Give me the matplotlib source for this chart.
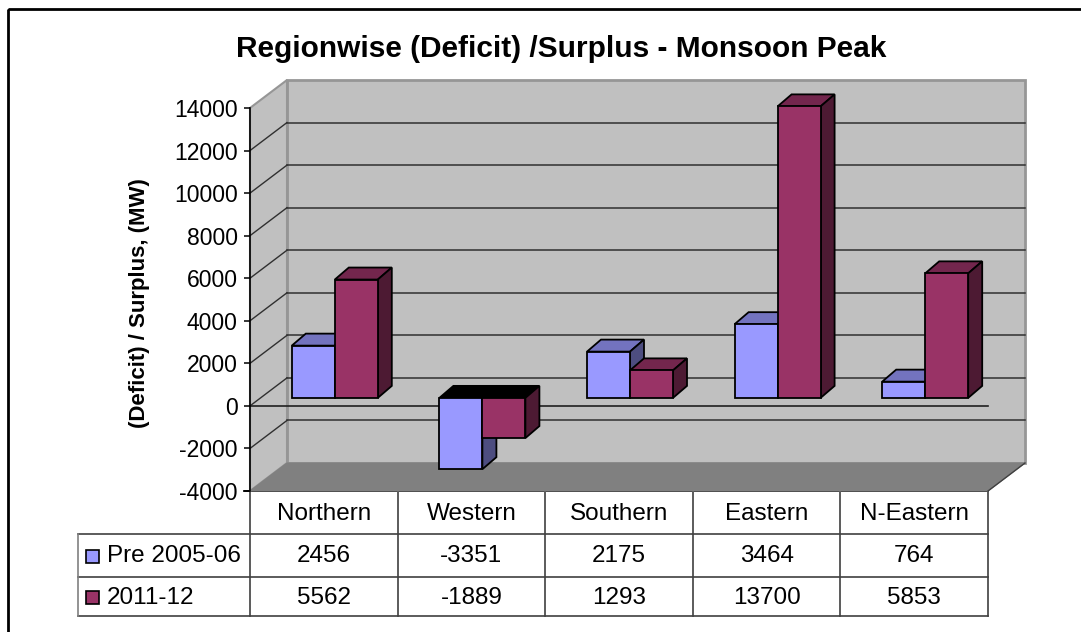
import numpy as np
import matplotlib
matplotlib.use("Agg")
import matplotlib.pyplot as plt
from matplotlib.patches import Polygon, Rectangle
from matplotlib.lines import Line2D

# ---------------- data ----------------
categories = ["Northern", "Western", "Southern", "Eastern", "N-Eastern"]
series_names = ["Pre 2005-06", "2011-12"]
pre_2005_06 = [2456, -3351, 2175, 3464, 764]
y_2011_12 = [5562, -1889, 1293, 13700, 5853]
yticks = list(range(-4000, 14001, 2000))
title = "Regionwise (Deficit) /Surplus - Monsoon Peak"
ylabel = "(Deficit) / Surplus, (MW)"

# ---------------- styling ----------------
FRONT = ["#9999FF", "#993366"]
TOP = ["#7373BF", "#73264D"]
SIDE = ["#4D4D80", "#4D1A33"]
FONT = "Liberation Sans"
plt.rcParams["font.family"] = [FONT, "DejaVu Sans"]

W, H = 1081, 632
fig = plt.figure(figsize=(W / 100, H / 100), dpi=100)

# pixel geometry of the front plane
L, R, T, B = 250, 988, 108, 491
ymin, ymax = -4000, 14000
ncat = len(categories)
PXX = (R - L) / ncat
PXY = (B - T) / (ymax - ymin)


def px2x(p):
    return p / PXX


def px2y(p):
    return p / PXY


# background overlay in pixel coordinates
bg = fig.add_axes([0, 0, 1, 1], zorder=0)
bg.set_xlim(0, W)
bg.set_ylim(H, 0)
bg.axis("off")
bg.add_patch(Rectangle((8, 9), 1200, 800, fill=False, edgecolor="black", lw=2))

ax = fig.add_axes([L / W, (H - B) / H, (R - L) / W, (B - T) / H], zorder=1)
ax.patch.set_visible(False)
ax.set_xlim(0, ncat)
ax.set_ylim(ymin, ymax)
for s in ["top", "right", "bottom"]:
    ax.spines[s].set_visible(False)
ax.spines["left"].set_linewidth(1.2)
ax.spines["left"].set_zorder(6)
ax.set_xticks([])
ax.set_yticks(yticks)
ax.set_yticklabels([str(v) for v in yticks], fontsize=16.5)
ax.tick_params(axis="y", direction="out", length=4.5, width=1.1, pad=4.5)

wx, wy = px2x(37), px2y(28)
# back wall
ax.add_patch(Polygon([(wx, ymin + wy), (ncat + wx, ymin + wy), (ncat + wx, ymax + wy), (wx, ymax + wy)],
                     closed=True, facecolor="#C0C0C0", edgecolor="#969696", lw=2, clip_on=False, zorder=0.5))
# side wall
ax.add_patch(Polygon([(0, ymin), (0, ymax), (wx, ymax + wy), (wx, ymin + wy)],
                     closed=True, facecolor="#C0C0C0", edgecolor="#969696", lw=1.5, clip_on=False, zorder=0.6))
# grid lines
for v in yticks[1:-1]:
    ax.add_line(Line2D([wx, ncat + wx], [v + wy, v + wy], color="#303030", lw=1.1, clip_on=False, zorder=0.8))
    ax.add_line(Line2D([0, wx], [v, v + wy], color="#303030", lw=1.0, clip_on=False, zorder=0.8))
# floor
ax.add_patch(Polygon([(0, ymin), (ncat, ymin), (ncat + wx, ymin + wy), (wx, ymin + wy)],
                     closed=True, facecolor="#808080", edgecolor="#808080", lw=0.8, clip_on=False, zorder=0.9))
ax.add_line(Line2D([ncat, ncat + wx], [ymin, ymin + wy], color="#404040", lw=1.0, clip_on=False, zorder=0.95))
# zero line on front plane
ax.add_line(Line2D([0, ncat], [0, 0], color="#202020", lw=1.2, clip_on=False, zorder=1))

# bars
ox, oy = px2x(11), px2y(8)
dx, dy = px2x(14), px2y(12)
bw = px2x(43)
centers = np.arange(ncat) + 0.5
for s, vals in enumerate([pre_2005_06, y_2011_12]):
    z = 3 + s
    xl = centers + ox + (s - 1) * bw
    ax.bar(xl, vals, width=bw, bottom=oy, align="edge", color=FRONT[s], edgecolor="black",
           lw=1.3, zorder=z + 0.2, clip_on=False)
    for x0, v in zip(xl, vals):
        ylo, yhi = oy + min(0, v), oy + max(0, v)
        topc = TOP[s] if v >= 0 else "black"
        ax.add_patch(Polygon([(x0, yhi), (x0 + bw, yhi), (x0 + bw + dx, yhi + dy), (x0 + dx, yhi + dy)],
                             closed=True, facecolor=topc, edgecolor="black", lw=1.3, zorder=z, clip_on=False))
        ax.add_patch(Polygon([(x0 + bw, ylo), (x0 + bw, yhi), (x0 + bw + dx, yhi + dy), (x0 + bw + dx, ylo + dy)],
                             closed=True, facecolor=SIDE[s], edgecolor="black", lw=1.3, zorder=z, clip_on=False))

# title and y label
fig.text(561 / W, 1 - 49 / H, title, ha="center", va="center", fontsize=21.5, fontweight="bold")
fig.text(140 / W, 1 - 303 / H, ylabel, ha="center", va="center", rotation=90, fontsize=16, fontweight="bold")

# ---------------- data table ----------------
r0, r1, r2, r3 = B, 534, 577, 616
LBL = 78
lc = "#404040"
bg.add_line(Line2D([L - 6, R], [r0, r0], color="black", lw=1.3, zorder=2))
for i in range(ncat + 1):
    xx = L + i * PXX
    bg.add_line(Line2D([xx, xx], [r0, r3], color=lc, lw=1.2, zorder=2))
for yy in (r1, r2, r3):
    bg.add_line(Line2D([LBL, R], [yy, yy], color=lc, lw=1.2, zorder=2))
bg.add_line(Line2D([LBL, LBL], [r1, r3], color="#808080", lw=1.2, zorder=2))

for i, c in enumerate(categories):
    bg.text(L + (i + 0.5) * PXX, (r0 + r1) / 2 + 1, c, ha="center", va="center", fontsize=17.5)
for rowy, name, vals, col in [((r1 + r2) / 2, series_names[0], pre_2005_06, FRONT[0]),
                              ((r2 + r3) / 2, series_names[1], y_2011_12, FRONT[1])]:
    bg.add_patch(Rectangle((86, rowy - 6), 13, 13, facecolor=col, edgecolor="black", lw=1.2, zorder=3))
    bg.text(107, rowy + 1, name, ha="left", va="center", fontsize=17.5)
    for i, v in enumerate(vals):
        bg.text(L + (i + 0.5) * PXX, rowy + 1, str(v), ha="center", va="center", fontsize=17.5)

fig.savefig("out.png", dpi=100)
